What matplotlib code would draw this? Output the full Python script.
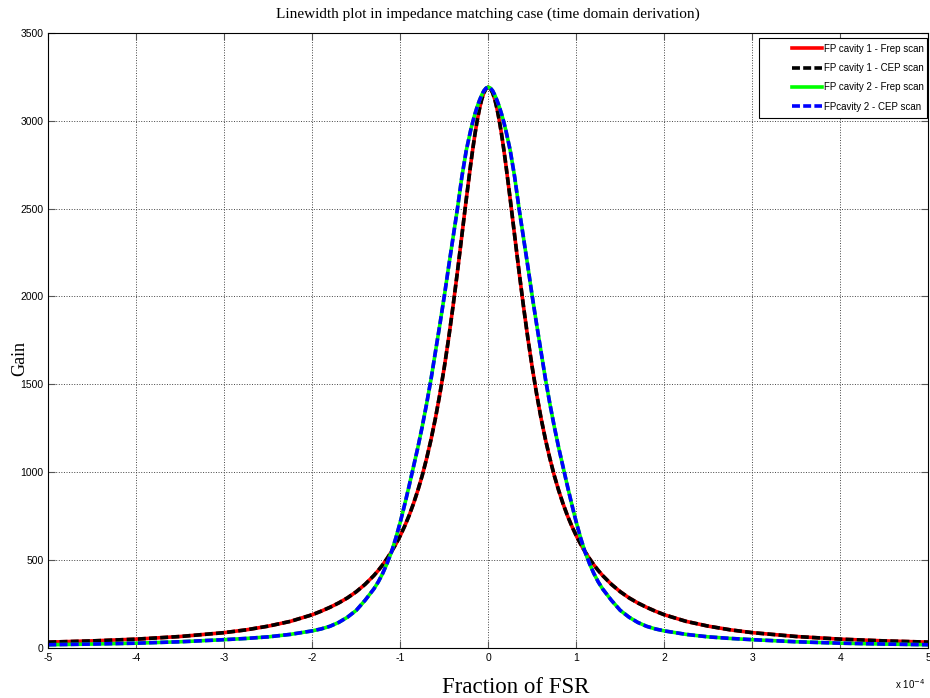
import numpy as np
import matplotlib
matplotlib.use("Agg")
import matplotlib.pyplot as plt
from matplotlib.patches import Rectangle

plt.rcParams['axes.unicode_minus'] = False

# detuning, in units of 1e-4 FSR
x_frac = [-5.0, -4.5, -4.0, -3.5, -3.0, -2.75, -2.5, -2.25, -2.0, -1.9, -1.8, -1.7, -1.6,
          -1.5, -1.4, -1.3, -1.25, -1.2, -1.15, -1.1, -1.05, -1.0, -0.95, -0.9, -0.85,
          -0.8, -0.75, -0.7, -0.65, -0.6, -0.55, -0.5, -0.45, -0.4, -0.35, -0.3, -0.25,
          -0.2, -0.175, -0.15, -0.125, -0.1, -0.075, -0.05, -0.025,
          0.0,
          0.025, 0.05, 0.075, 0.1, 0.125, 0.15, 0.175, 0.2,
          0.25, 0.3, 0.35, 0.4, 0.45, 0.5, 0.55, 0.6, 0.65, 0.7, 0.75, 0.8,
          0.85, 0.9, 0.95, 1.0, 1.05, 1.1, 1.15, 1.2, 1.25, 1.3, 1.4, 1.5,
          1.6, 1.7, 1.8, 1.9, 2.0, 2.25, 2.5, 2.75, 3.0, 3.5, 4.0, 4.5, 5.0]

# cavity 1 gain (frep scan and CEP scan overlap)
gain_cav1 = [32, 39, 49, 64, 86, 102, 123, 150, 188, 208, 230, 255, 284,
             319, 361, 411, 440, 472, 508, 547, 590, 638, 692, 752, 820,
             896, 981, 1078, 1186, 1307, 1444, 1595, 1762, 1945, 2141, 2346, 2552,
             2750, 2842, 2927, 3002, 3067, 3120, 3158, 3182,
             3190,
             3182, 3158, 3120, 3067, 3002, 2927, 2842, 2750,
             2552, 2346, 2141, 1945, 1762, 1595, 1444, 1307, 1186, 1078, 981, 896,
             820, 752, 692, 638, 590, 547, 508, 472, 440, 411, 361, 319,
             284, 255, 230, 208, 188, 150, 123, 102, 86, 64, 49, 39, 32]

# cavity 2 gain (frep scan and CEP scan overlap)
gain_cav2 = [17, 21, 26, 34, 46, 53, 62, 76, 96, 107, 122, 144, 174,
             213, 270, 335, 375, 423, 480, 545, 625, 715, 815, 920, 1030,
             1140, 1260, 1390, 1530, 1685, 1840, 2000, 2170, 2335, 2500, 2680, 2830,
             2945, 2995, 3040, 3080, 3115, 3145, 3170, 3185,
             3190,
             3185, 3170, 3145, 3115, 3080, 3040, 2995, 2945,
             2830, 2680, 2500, 2335, 2170, 2000, 1840, 1685, 1530, 1390, 1260, 1140,
             1030, 920, 815, 715, 625, 545, 480, 423, 375, 335, 270, 213,
             174, 144, 122, 107, 96, 76, 62, 53, 46, 34, 26, 21, 17]

fig = plt.figure(figsize=(9.3, 6.98), dpi=100)
ax = fig.add_axes([0.052, 0.072, 0.946, 0.881])

lw = 2.6
dash = (2.2, 0.9)
ax.plot(x_frac, gain_cav1, color='red', lw=lw, label='FP cavity 1 - Frep scan')
ax.plot(x_frac, gain_cav1, color='black', lw=lw, dashes=dash, label='FP cavity 1 - CEP scan')
ax.plot(x_frac, gain_cav2, color=(0, 1, 0), lw=lw, label='FP cavity 2 - Frep scan')
ax.plot(x_frac, gain_cav2, color='blue', lw=lw, dashes=dash, label='FPcavity 2 - CEP scan')

ax.set_xlim(-5, 5)
ax.set_ylim(0, 3500)
ax.set_xticks(np.arange(-5, 6))
ax.set_yticks(np.arange(0, 3501, 500))

ax.grid(True, linestyle=':', color='#444444', lw=0.7)
ax.tick_params(direction='in', top=True, right=True, length=5, labelsize=7.5, color='#555555')
for lab in ax.get_xticklabels() + ax.get_yticklabels():
    lab.set_family('Liberation Sans')

# exponent of the x axis, as matlab puts it
fig.text(895 / 930, 1 - 684 / 698, r'x 10$^{-4}$', family='Liberation Sans', fontsize=7,
         ha='left', va='center')

ax.set_title('Linewidth plot in impedance matching case (time domain derivation)',
             family='Liberation Serif', fontsize=11, pad=11)
ax.set_xlabel('Fraction of FSR', family='Liberation Serif', fontsize=16.5)
ax.xaxis.set_label_coords(0.531, -0.047)
ax.set_ylabel('Gain', family='Liberation Serif', fontsize=13)
ax.yaxis.set_label_coords(-0.023, 0.47)

# legend box (matlab style, wide left margin)
box = Rectangle((0.808, 0.862), 0.191, 0.130, transform=ax.transAxes, facecolor='white',
                edgecolor='black', lw=0.8, zorder=5)
ax.add_patch(box)
leg = ax.legend(loc='upper left', bbox_to_anchor=(0.8456, 0.982), frameon=False,
                prop={'family': 'Liberation Sans', 'size': 7}, handlelength=3.1,
                borderpad=0, borderaxespad=0, labelspacing=0.95, handletextpad=0.15)
leg.set_zorder(6)

fig.savefig('out.png', dpi=100)
